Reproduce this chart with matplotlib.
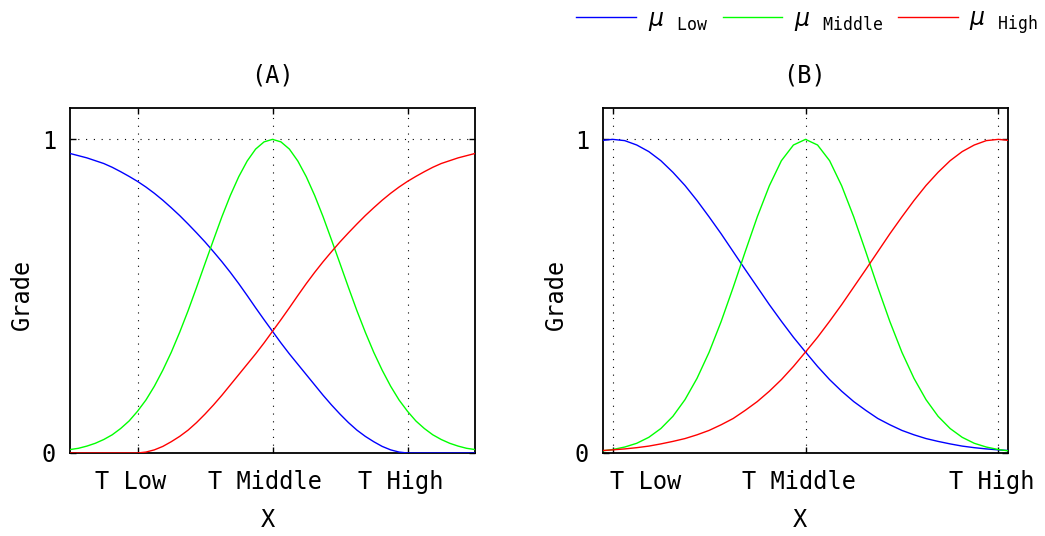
import numpy as np
import matplotlib
matplotlib.use("Agg")
import matplotlib.pyplot as plt
from matplotlib.transforms import ScaledTranslation

plt.rcParams['font.family'] = ['DejaVu Sans Mono']
plt.rcParams['mathtext.fontset'] = 'custom'
plt.rcParams['mathtext.rm'] = 'DejaVu Sans Mono'
plt.rcParams['mathtext.it'] = 'DejaVu Sans:italic'

# ---- data ----
tick_pos = [1, 2, 3]
tick_labels = ['T Low', 'T Middle', 'T High']
y_ticks = [0, 1]
y_tick_labels = ['0', '1']
titles = ['(A)', '(B)']
series_names = [r'$\mu\;\;{}_{\mathrm{Low}}$', r'$\mu\;\;{}_{\mathrm{Middle}}$',
                r'$\mu\;\;{}_{\mathrm{High}}$']

# Panel A: samples across the x range
xA = np.linspace(0.5, 3.5, 49)
lowA = [0.955, 0.948, 0.941, 0.932, 0.923, 0.911, 0.897, 0.882, 0.866, 0.848,
        0.828, 0.806, 0.782, 0.757, 0.730, 0.702, 0.673, 0.642, 0.610, 0.576,
        0.540, 0.502, 0.463, 0.425, 0.388, 0.351, 0.316, 0.283, 0.250, 0.217,
        0.184, 0.153, 0.124, 0.097, 0.073, 0.053, 0.036, 0.021, 0.010, 0.003,
        0.0, 0.0, 0.0, 0.0, 0.0, 0.0, 0.0, 0.0, 0.0]
midA = [0.011, 0.015, 0.022, 0.031, 0.043, 0.058, 0.078, 0.102, 0.133, 0.169,
        0.213, 0.264, 0.321, 0.385, 0.454, 0.528, 0.604, 0.679, 0.753, 0.821,
        0.881, 0.931, 0.969, 0.992, 1.0, 0.992, 0.969, 0.931, 0.881, 0.821,
        0.753, 0.679, 0.604, 0.528, 0.454, 0.385, 0.321, 0.264, 0.213, 0.169,
        0.133, 0.102, 0.078, 0.058, 0.043, 0.031, 0.022, 0.015, 0.011]
highA = [0.0, 0.0, 0.0, 0.0, 0.0, 0.0, 0.0, 0.0, 0.0, 0.003,
         0.010, 0.021, 0.036, 0.053, 0.073, 0.097, 0.124, 0.153, 0.184, 0.217,
         0.250, 0.283, 0.316, 0.351, 0.388, 0.425, 0.463, 0.502, 0.540, 0.576,
         0.610, 0.642, 0.673, 0.702, 0.730, 0.757, 0.782, 0.806, 0.828, 0.848,
         0.866, 0.882, 0.897, 0.911, 0.923, 0.932, 0.941, 0.948, 0.955]

# Panel B
xB = np.concatenate([[0.95], np.linspace(1.0, 3.0, 33), [3.05]])
lowB = [0.997, 1.0, 0.996, 0.982, 0.961, 0.932, 0.895, 0.853, 0.805, 0.753,
        0.699, 0.642, 0.585, 0.529, 0.473, 0.420, 0.369, 0.322, 0.276, 0.234,
        0.197, 0.164, 0.136, 0.110, 0.090, 0.072, 0.058, 0.046, 0.037, 0.029,
        0.022, 0.017, 0.013, 0.010, 0.008]
midB = [0.007, 0.011, 0.019, 0.031, 0.050, 0.078, 0.117, 0.170, 0.238, 0.321,
        0.419, 0.528, 0.642, 0.753, 0.852, 0.932, 0.982, 1.0, 0.982, 0.932,
        0.852, 0.753, 0.642, 0.528, 0.419, 0.321, 0.238, 0.170, 0.117, 0.078,
        0.050, 0.031, 0.019, 0.011, 0.007]
highB = [0.008, 0.010, 0.013, 0.017, 0.022, 0.029, 0.037, 0.046, 0.058, 0.072,
         0.090, 0.110, 0.136, 0.164, 0.197, 0.234, 0.276, 0.322, 0.369, 0.420,
         0.473, 0.529, 0.585, 0.642, 0.699, 0.753, 0.805, 0.853, 0.895, 0.932,
         0.961, 0.982, 0.996, 1.0, 0.997]

colors = ['#0000ff', '#00ff00', '#ff0000']

W, H = 1045, 536
fig = plt.figure(figsize=(W / 100, H / 100), dpi=100)

def px_rect(l, r, t, b):
    return [l / W, 1 - b / H, (r - l) / W, (b - t) / H]

axA = fig.add_axes(px_rect(70, 475, 108, 453))
axB = fig.add_axes(px_rect(603, 1008, 108, 453))

panels = [
    (axA, xA, [lowA, midA, highA], (0.5, 3.5)),
    (axB, xB, [lowB, midB, highB], (0.95, 3.05)),
]

handles = []
for ax, x, ys, xl in panels:
    hs = []
    for y, c in zip(ys, colors):
        h, = ax.plot(x, y, color=c, lw=1.0, zorder=3)
        hs.append(h)
    handles = hs
    ax.set_xlim(*xl)
    ax.set_ylim(0, 1.1)
    ax.set_xticks(tick_pos)
    ax.set_xticklabels(tick_labels)
    ax.set_yticks(y_ticks)
    ax.set_yticklabels(y_tick_labels)
    ax.tick_params(direction='in', length=4, width=1.0, top=True, right=True,
                   labelsize=17)
    ax.tick_params(axis='x', pad=12)
    ax.tick_params(axis='y', pad=10)
    ax.grid(True, color='k', linestyle=(0, (1, 6)), linewidth=0.8)
    for s in ax.spines.values():
        s.set_linewidth(1.3)
        s.set_color('k')
    ax.set_axisbelow(True)

# tick labels sit slightly left of their ticks, as in the original
shift = ScaledTranslation(-7 / 100, 0, fig.dpi_scale_trans)
for ax in (axA, axB):
    for lbl in ax.get_xticklabels():
        lbl.set_transform(lbl.get_transform() + shift)
lbl0 = axB.get_xticklabels()[0]
lbl0.set_ha('left')
lbl0.set_transform(lbl0.get_transform() + ScaledTranslation(4 / 100, 0, fig.dpi_scale_trans))

fig.text(272 / W, 1 - 75 / H, titles[0], ha='center', va='center', fontsize=17)
fig.text(805 / W, 1 - 75 / H, titles[1], ha='center', va='center', fontsize=17)
fig.text(268 / W, 1 - 520 / H, 'X', ha='center', va='center', fontsize=17)
fig.text(800 / W, 1 - 520 / H, 'X', ha='center', va='center', fontsize=17)
fig.text(22 / W, 1 - 294 / H, 'Grade', ha='center', va='center', rotation=90, fontsize=17)
fig.text(556 / W, 1 - 294 / H, 'Grade', ha='center', va='center', rotation=90, fontsize=17)

fig.legend(handles, series_names, loc='upper right', bbox_to_anchor=(1.007, 1.014),
           ncol=3, frameon=False, fontsize=17, handlelength=2.54,
           handletextpad=0.5, columnspacing=0.6, borderaxespad=0.2)

fig.savefig('out.png', dpi=100)
